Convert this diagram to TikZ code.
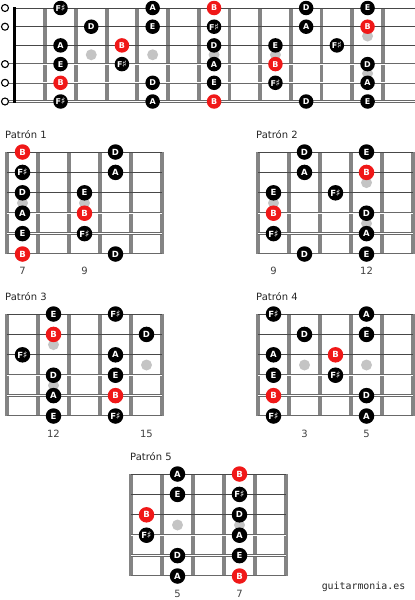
\documentclass[tikz,border=0pt]{standalone}
\usepackage{fontspec}
\setmainfont{DejaVu Sans}
\newfontfamily\sitefont{DejaVu Sans Mono}
\newcommand\shp{\kern-0.3pt{\fontsize{9.5}{9.5}\selectfont ♯}}
\definecolor{notered}{RGB}{240,24,24}
\definecolor{fretgray}{RGB}{132,132,132}
\definecolor{dotgray}{RGB}{196,196,196}
\definecolor{stringgray}{RGB}{72,72,72}
\definecolor{woundgray}{RGB}{105,105,105}
\definecolor{numgray}{RGB}{64,64,64}
\tikzset{
  note/.style={circle, fill=black, text=white, inner sep=0pt, minimum size=15.5pt,
    font=\bfseries\fontsize{8.5}{8.5}\selectfont},
  topnote/.style={note, minimum size=14.5pt, font=\bfseries\fontsize{8}{8}\selectfont},
  opencirc/.style={circle, draw=black, line width=1.1pt, fill=white, inner sep=0pt, minimum size=7pt},
  fretline/.style={line width=3.8pt, fretgray},
  thinstring/.style={line width=0.8pt, stringgray},
  thickstring/.style={draw=woundgray, line width=0.75pt, double=white, double distance=0.8pt},
  pattitle/.style={anchor=base west, inner sep=0pt, font=\fontsize{10}{12}\selectfont, text=black!85},
  fretnum/.style={font=\fontsize{10}{12}\selectfont, text=numgray}
}
\begin{document}
\begin{tikzpicture}[x=1pt, y=-1pt]
\useasboundingbox (0,0) rectangle (415,600);
\def\Board#1#2{
\foreach \f in {0,...,5}
  \draw[fretline] (#1+\f*31,#2) -- (#1+\f*31,#2+102);
\foreach \s in {0,1,2}
  \draw[thinstring] (#1,#2+\s*20.4) -- (#1+155,#2+\s*20.4);
\foreach \s in {3,4,5}
  \draw[thickstring] (#1,#2+\s*20.4) -- (#1+155,#2+\s*20.4);
}
\def\Dot#1#2{
\fill[dotgray] (#1,#2) circle (5.5pt);
}
\def\Notes#1#2#3#4{
\foreach \c/\s/\t/\k in {#4}
  {
    \node[note, fill=\k] (#1-\s-\c) at (#2+15.5+\c*31,#3+\s*20.4) {\t};
  }
}

% full neck
\foreach \k in {1,...,12}
  \draw[fretline] (14.5+\k*30.7,8) -- (14.5+\k*30.7,101.5);
\foreach \s in {0,1,2}
  \draw[thinstring] (14.5,8+\s*18.7) -- (415,8+\s*18.7);
\foreach \s in {3,4,5}
  \draw[thickstring] (9,8+\s*18.7) -- (415,8+\s*18.7);
\draw[line width=3pt] (14.5,7) -- (14.5,102.5);
\foreach \s in {0,1,3,4,5}
  \node[opencirc] (open-\s) at (5,8+\s*18.7) {};
\foreach \f in {3,5,7,9}
  {\Dot{-0.85+\f*30.7}{54.75}}
\Dot{367.55}{36.05}
\Dot{367.55}{73.45}
\foreach \f/\s/\t/\k in {2/0/F\shp/black, 5/0/A/black, 7/0/B/notered, 10/0/D/black, 12/0/E/black,
  3/1/D/black, 5/1/E/black, 7/1/F\shp/black, 10/1/A/black, 12/1/B/notered,
  2/2/A/black, 4/2/B/notered, 7/2/D/black, 9/2/E/black, 11/2/F\shp/black,
  2/3/E/black, 4/3/F\shp/black, 7/3/A/black, 9/3/B/notered, 12/3/D/black,
  2/4/B/notered, 5/4/D/black, 7/4/E/black, 9/4/F\shp/black, 12/4/A/black,
  2/5/F\shp/black, 5/5/A/black, 7/5/B/notered, 10/5/D/black, 12/5/E/black}
  {
    \node[topnote, fill=\k] (top-\s-\f) at (-0.85+\f*30.7,8+\s*18.7) {\t};
  }

% patron 1
\node[pattitle] (title1) at (5,138) {Patrón 1};
\Board{7}{152}
\Dot{22.5}{203}
\Dot{84.5}{203}
\Notes{p1}{7}{152}{0/0/B/notered, 3/0/D/black, 0/1/F\shp/black, 3/1/A/black,
  0/2/D/black, 2/2/E/black, 0/3/A/black, 2/3/B/notered,
  0/4/E/black, 2/4/F\shp/black, 0/5/B/notered, 3/5/D/black}
\node[fretnum] (p1-fret7) at (22.5,271) {7};
\node[fretnum] (p1-fret9) at (84.5,271) {9};

% patron 2
\node[pattitle] (title2) at (256,138) {Patrón 2};
\Board{258}{152}
\Dot{273.5}{203}
\Dot{366.5}{182.6}
\Dot{366.5}{223.4}
\Notes{p2}{258}{152}{1/0/D/black, 3/0/E/black, 1/1/A/black, 3/1/B/notered,
  0/2/E/black, 2/2/F\shp/black, 0/3/B/notered, 3/3/D/black,
  0/4/F\shp/black, 3/4/A/black, 1/5/D/black, 3/5/E/black}
\node[fretnum] (p2-fret9) at (273.5,271) {9};
\node[fretnum] (p2-fret12) at (366.5,271) {12};

% patron 3
\node[pattitle] (title3) at (5,300) {Patrón 3};
\Board{7}{314}
\Dot{53.5}{344.6}
\Dot{53.5}{385.4}
\Dot{146.5}{365}
\Notes{p3}{7}{314}{1/0/E/black, 3/0/F\shp/black, 1/1/B/notered, 4/1/D/black,
  0/2/F\shp/black, 3/2/A/black, 1/3/D/black, 3/3/E/black,
  1/4/A/black, 3/4/B/notered, 1/5/E/black, 3/5/F\shp/black}
\node[fretnum] (p3-fret12) at (53.5,434) {12};
\node[fretnum] (p3-fret15) at (146.5,434) {15};

% patron 4
\node[pattitle] (title4) at (256,300) {Patrón 4};
\Board{258}{314}
\Dot{304.5}{365}
\Dot{366.5}{365}
\Notes{p4}{258}{314}{0/0/F\shp/black, 3/0/A/black, 1/1/D/black, 3/1/E/black,
  0/2/A/black, 2/2/B/notered, 0/3/E/black, 2/3/F\shp/black,
  0/4/B/notered, 3/4/D/black, 0/5/F\shp/black, 3/5/A/black}
\node[fretnum] (p4-fret3) at (304.5,434) {3};
\node[fretnum] (p4-fret5) at (366.5,434) {5};

% patron 5
\node[pattitle] (title5) at (130,460) {Patrón 5};
\Board{131}{474}
\Dot{177.5}{525}
\Dot{239.5}{525}
\Notes{p5}{131}{474}{1/0/A/black, 3/0/B/notered, 1/1/E/black, 3/1/F\shp/black,
  0/2/B/notered, 3/2/D/black, 0/3/F\shp/black, 3/3/A/black,
  1/4/D/black, 3/4/E/black, 1/5/A/black, 3/5/B/notered}
\node[fretnum] (p5-fret5) at (177.5,594) {5};
\node[fretnum] (p5-fret7) at (239.5,594) {7};

\node[font=\sitefont\fontsize{9.9}{12}\selectfont, text=black!85] (site) at (363.5,587) {guitarmonia.es};
\end{tikzpicture}
\end{document}
